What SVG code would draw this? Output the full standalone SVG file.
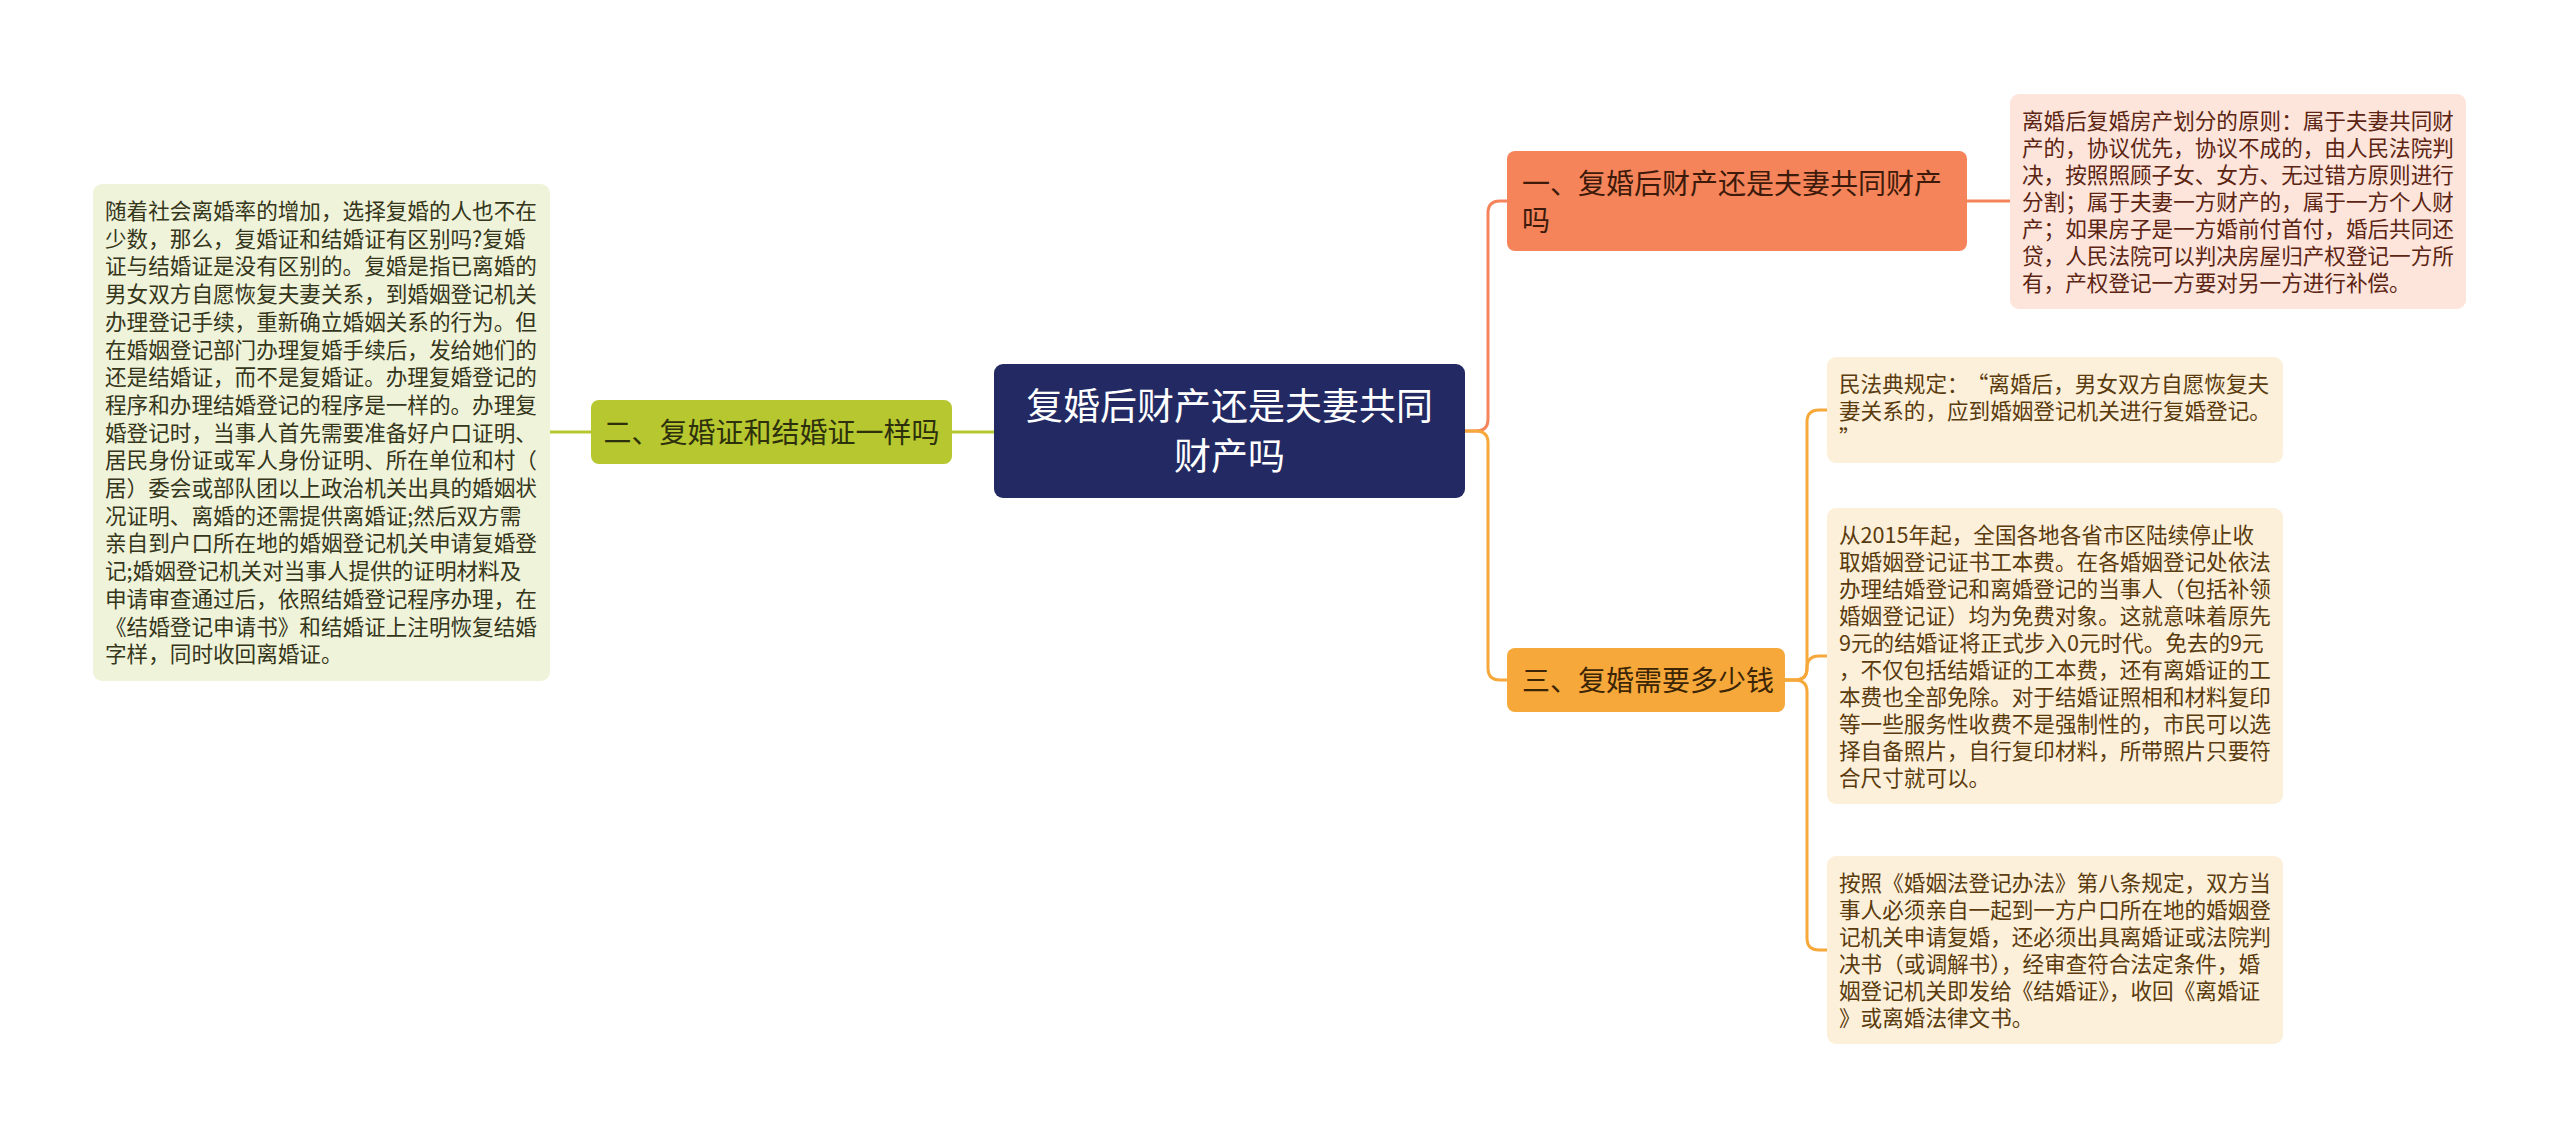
<svg xmlns="http://www.w3.org/2000/svg" width="2560" height="1140" viewBox="0 0 2560 1140">
<style>
text{font-family:"Noto Sans CJK SC","Noto Sans",sans-serif}
.box{font-size:21.6px}
.node{font-size:28px}
.ln{fill:none;stroke-width:3}
</style>
<rect width="2560" height="1140" fill="#ffffff"/>
<g id="connectors">
<path class="ln" stroke="#b7c72f" d="M550,432 H591"/>
<path class="ln" stroke="#b7c72f" d="M952,432 H994"/>
<path class="ln" stroke="#f5845a" d="M1465,431 H1476 Q1488,431 1488,419 V213 Q1488,201 1500,201 H1507"/>
<path class="ln" stroke="#f6a83b" d="M1465,431 H1476 Q1488,431 1488,443 V668 Q1488,680 1500,680 H1507"/>
<path class="ln" stroke="#f5845a" d="M1967,201 H2010"/>
<path class="ln" stroke="#f6a83b" d="M1785,680 H1795 Q1807,680 1807,668 V422 Q1807,410 1819,410 H1827"/>
<path class="ln" stroke="#f6a83b" d="M1785,680 H1795 Q1807,680 1807,668 V668 Q1807,656 1819,656 H1827"/>
<path class="ln" stroke="#f6a83b" d="M1785,680 H1795 Q1807,680 1807,692 V938 Q1807,950 1819,950 H1827"/>
</g>
<g id="center">
<rect x="994" y="364" width="471" height="134" rx="9" fill="#232a63"/>
<text x="1229.5" y="420" font-size="37" fill="#ffffff" text-anchor="middle">复婚后财产还是夫妻共同</text>
<text x="1229.5" y="470" font-size="37" fill="#ffffff" text-anchor="middle">财产吗</text>
</g>
<g id="node2">
<rect x="591" y="400" width="361" height="64" rx="8" fill="#b7c72f"/>
<text class="node" x="771.5" y="442.5" fill="#2d300c" text-anchor="middle">二、复婚证和结婚证一样吗</text>
</g>
<g id="node2-detail">
<rect x="93" y="184" width="457" height="497" rx="9" fill="#eff3da"/>
<text class="box" x="105" y="219" fill="#35361a"><tspan x="105">随着社会离婚率的增加，选择复婚的人也不在</tspan><tspan x="105" dy="27.7">少数，那么，复婚证和结婚证有区别吗?复婚</tspan><tspan x="105" dy="27.7">证与结婚证是没有区别的。复婚是指已离婚的</tspan><tspan x="105" dy="27.7">男女双方自愿恢复夫妻关系，到婚姻登记机关</tspan><tspan x="105" dy="27.7">办理登记手续，重新确立婚姻关系的行为。但</tspan><tspan x="105" dy="27.7">在婚姻登记部门办理复婚手续后，发给她们的</tspan><tspan x="105" dy="27.7">还是结婚证，而不是复婚证。办理复婚登记的</tspan><tspan x="105" dy="27.7">程序和办理结婚登记的程序是一样的。办理复</tspan><tspan x="105" dy="27.7">婚登记时，当事人首先需要准备好户口证明、</tspan><tspan x="105" dy="27.7">居民身份证或军人身份证明、所在单位和村（</tspan><tspan x="105" dy="27.7">居）委会或部队团以上政治机关出具的婚姻状</tspan><tspan x="105" dy="27.7">况证明、离婚的还需提供离婚证;然后双方需</tspan><tspan x="105" dy="27.7">亲自到户口所在地的婚姻登记机关申请复婚登</tspan><tspan x="105" dy="27.7">记;婚姻登记机关对当事人提供的证明材料及</tspan><tspan x="105" dy="27.7">申请审查通过后，依照结婚登记程序办理，在</tspan><tspan x="105" dy="27.7">《结婚登记申请书》和结婚证上注明恢复结婚</tspan><tspan x="105" dy="27.7">字样，同时收回离婚证。</tspan></text>
</g>
<g id="node1">
<rect x="1507" y="151" width="460" height="100" rx="8" fill="#f5845a"/>
<text class="node" x="1522" y="193.5" fill="#3d1a0a">一、复婚后财产还是夫妻共同财产</text>
<text class="node" x="1522" y="230.5" fill="#3d1a0a">吗</text>
</g>
<g id="node1-detail">
<rect x="2010" y="94" width="456" height="215" rx="9" fill="#fde5dc"/>
<text class="box" x="2022" y="128.7" fill="#5c2412"><tspan x="2022">离婚后复婚房产划分的原则：属于夫妻共同财</tspan><tspan x="2022" dy="27">产的，协议优先，协议不成的，由人民法院判</tspan><tspan x="2022" dy="27">决，按照照顾子女、女方、无过错方原则进行</tspan><tspan x="2022" dy="27">分割；属于夫妻一方财产的，属于一方个人财</tspan><tspan x="2022" dy="27">产；如果房子是一方婚前付首付，婚后共同还</tspan><tspan x="2022" dy="27">贷，人民法院可以判决房屋归产权登记一方所</tspan><tspan x="2022" dy="27">有，产权登记一方要对另一方进行补偿。</tspan></text>
</g>
<g id="node3">
<rect x="1507" y="648" width="278" height="64" rx="8" fill="#f6a83b"/>
<text class="node" x="1522" y="690.5" fill="#3b2505">三、复婚需要多少钱</text>
</g>
<g id="node3-detail-1">
<rect x="1827" y="357" width="456" height="106" rx="9" fill="#fdf0da"/>
<text class="box" x="1839" y="391.7" fill="#5a3b0e"><tspan x="1839">民法典规定：</tspan><tspan dx="9">“离婚后，男女双方自愿恢复夫</tspan><tspan x="1839" dy="27">妻关系的，应到婚姻登记机关进行复婚登记。</tspan><tspan x="1839" dy="27">”</tspan></text>
</g>
<g id="node3-detail-2">
<rect x="1827" y="508" width="456" height="296" rx="9" fill="#fdf0da"/>
<text class="box" x="1839" y="542.7" fill="#5a3b0e"><tspan x="1839">从2015年起，全国各地各省市区陆续停止收</tspan><tspan x="1839" dy="27">取婚姻登记证书工本费。在各婚姻登记处依法</tspan><tspan x="1839" dy="27">办理结婚登记和离婚登记的当事人（包括补领</tspan><tspan x="1839" dy="27">婚姻登记证）均为免费对象。这就意味着原先</tspan><tspan x="1839" dy="27">9元的结婚证将正式步入0元时代。免去的9元</tspan><tspan x="1839" dy="27">，不仅包括结婚证的工本费，还有离婚证的工</tspan><tspan x="1839" dy="27">本费也全部免除。对于结婚证照相和材料复印</tspan><tspan x="1839" dy="27">等一些服务性收费不是强制性的，市民可以选</tspan><tspan x="1839" dy="27">择自备照片，自行复印材料，所带照片只要符</tspan><tspan x="1839" dy="27">合尺寸就可以。</tspan></text>
</g>
<g id="node3-detail-3">
<rect x="1827" y="856" width="456" height="188" rx="9" fill="#fdf0da"/>
<text class="box" x="1839" y="890.7" fill="#5a3b0e"><tspan x="1839">按照《婚姻法登记办法》第八条规定，双方当</tspan><tspan x="1839" dy="27">事人必须亲自一起到一方户口所在地的婚姻登</tspan><tspan x="1839" dy="27">记机关申请复婚，还必须出具离婚证或法院判</tspan><tspan x="1839" dy="27">决书（或调解书），经审查符合法定条件，婚</tspan><tspan x="1839" dy="27">姻登记机关即发给《结婚证》，收回《离婚证</tspan><tspan x="1839" dy="27">》或离婚法律文书。</tspan></text>
</g>
</svg>
